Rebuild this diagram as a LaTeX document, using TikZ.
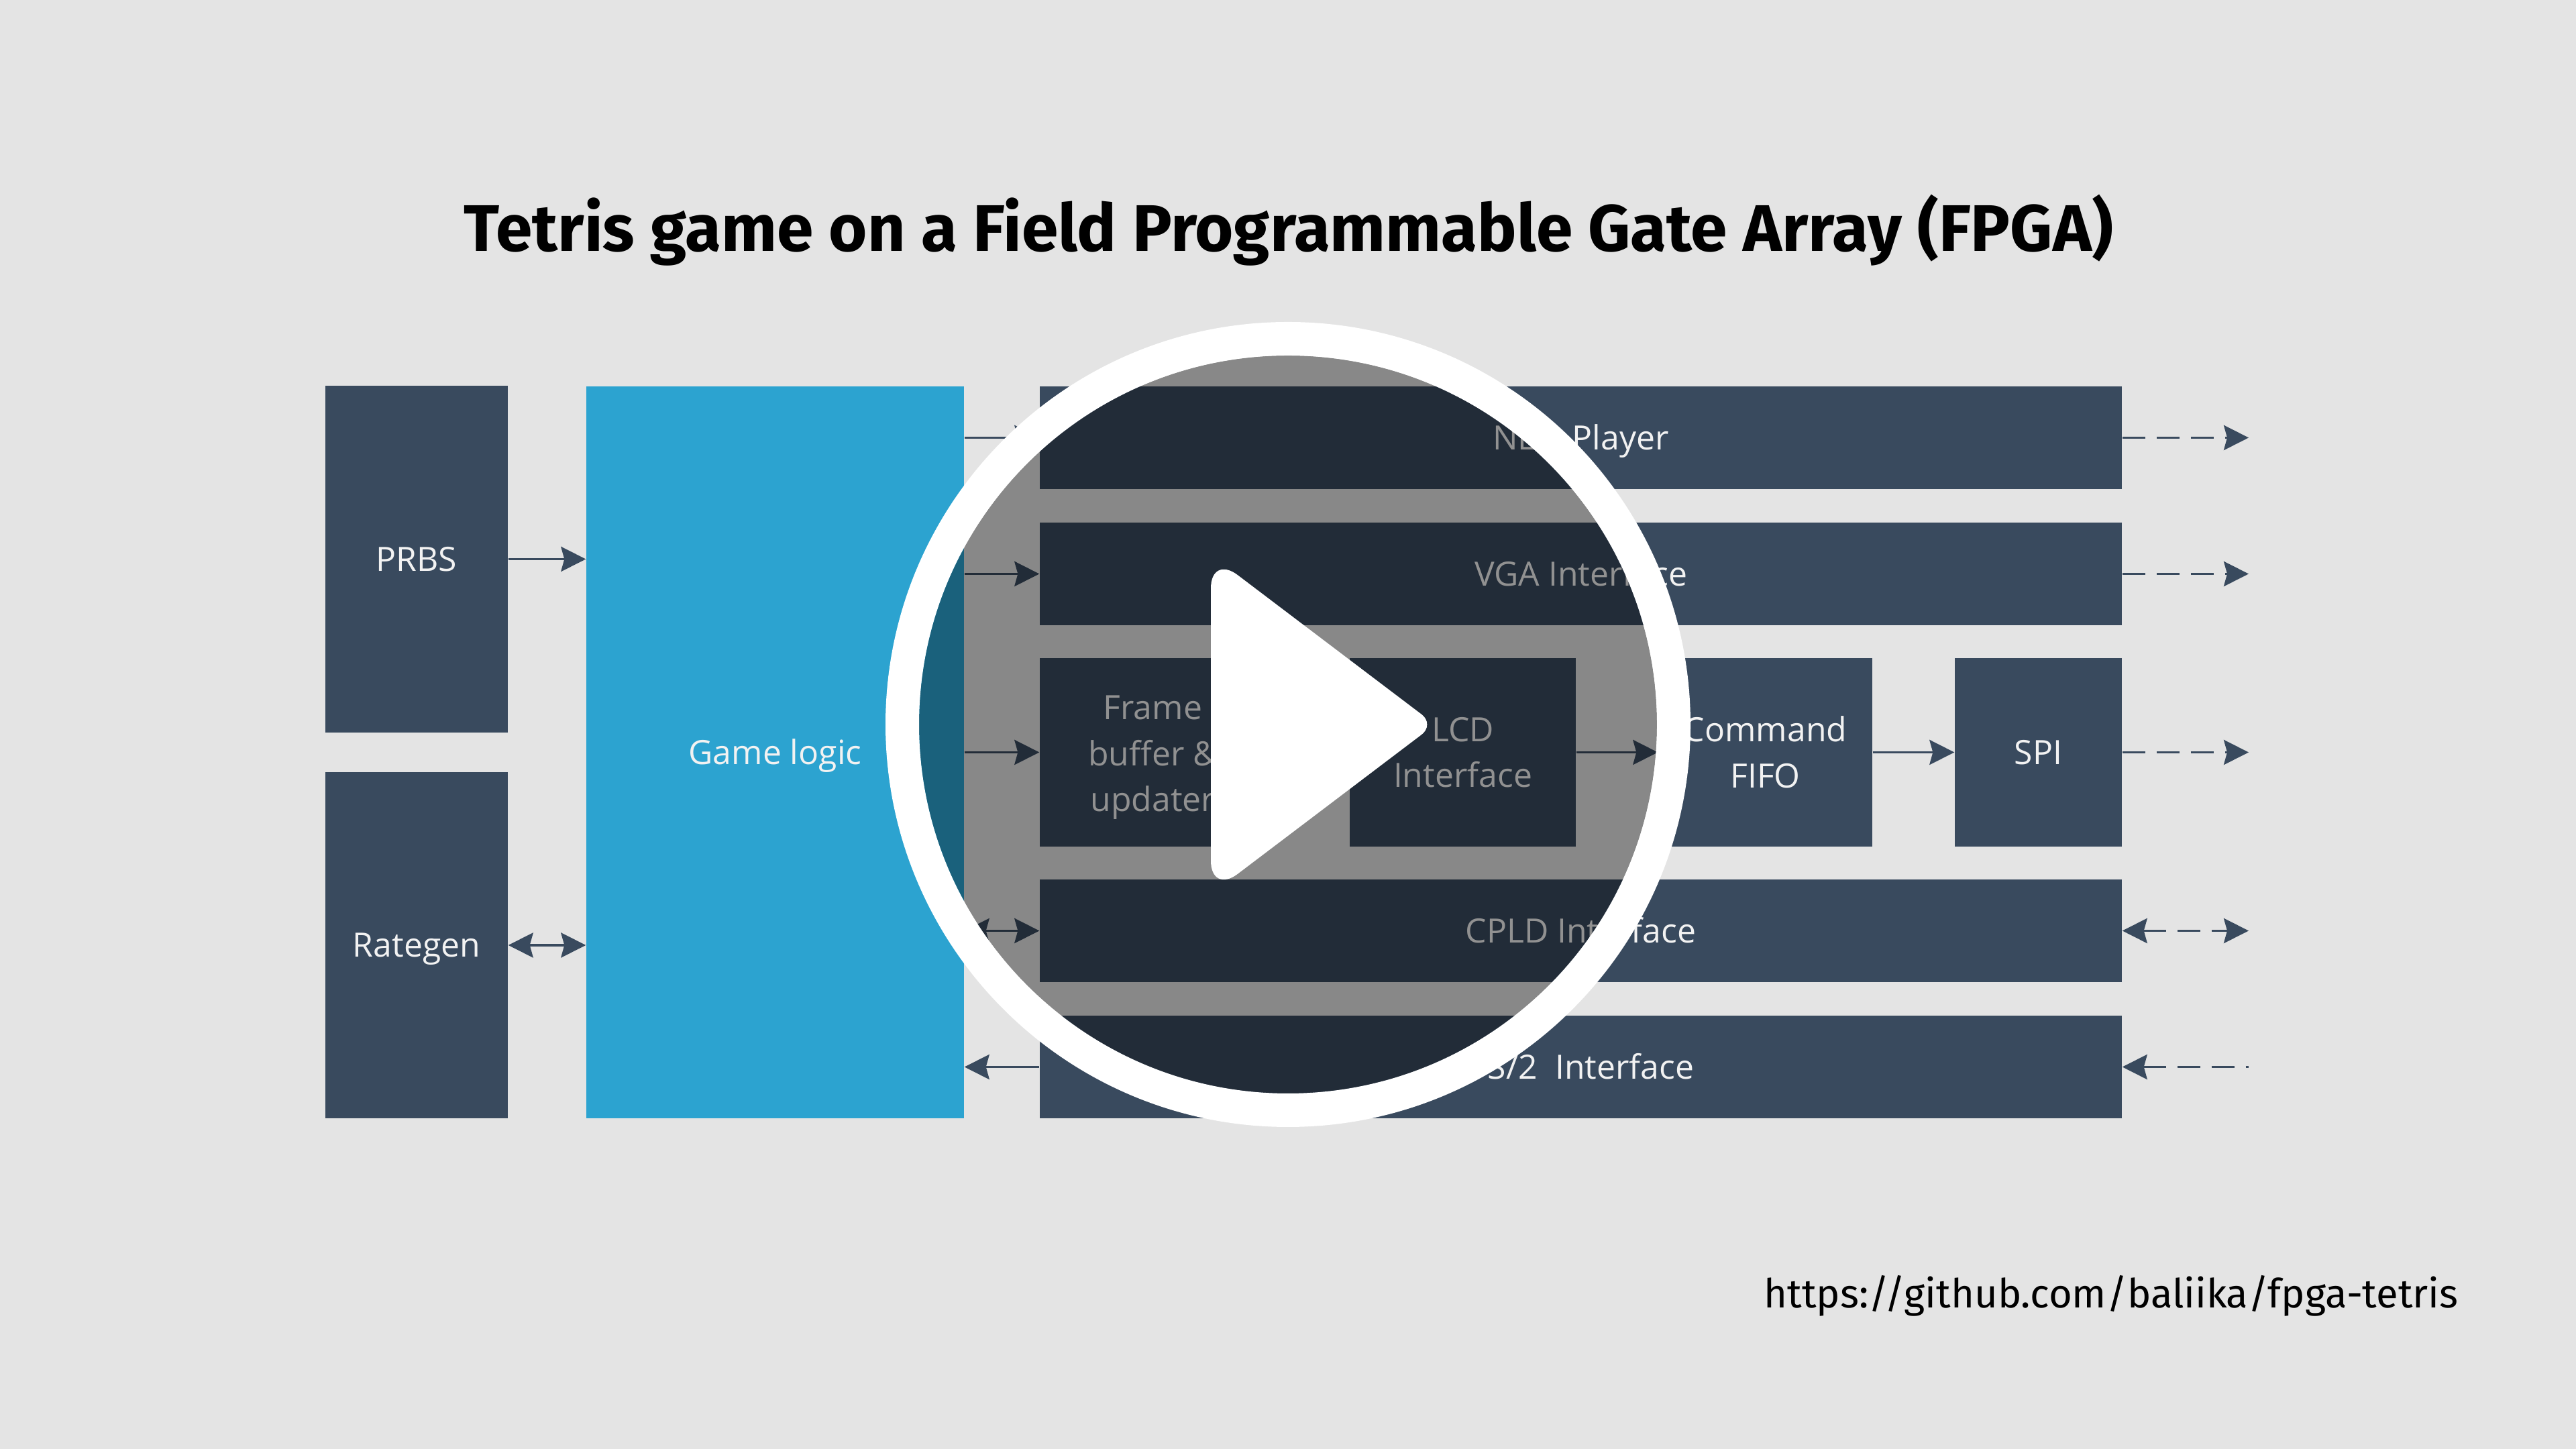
\documentclass[tikz,border=0pt]{standalone}
\usepackage{fontspec}
\setmainfont{Open Sans}
\newfontfamily\titlefont{Fira Sans}
\usetikzlibrary{arrows.meta, positioning, calc}
\definecolor{slatebox}{HTML}{394A5E}
\definecolor{gameblue}{HTML}{2CA3D0}
\definecolor{pagegray}{HTML}{E4E4E4}
\definecolor{boxtext}{HTML}{F2F2F2}

\begin{document}
\begin{tikzpicture}[
  >={Stealth[length=3.7mm, width=3.7mm, inset=0.5mm]},
  stacked/.style={fill=slatebox, text=boxtext, inner sep=0pt, align=center, font=\fontsize{14.2}{19.5}\selectfont},
  block/.style={stacked, execute at begin node=\rule{0pt}{16pt}, execute at end node=\strut},
  wire/.style={draw=slatebox, line width=1.1pt},
  dashwire/.style={wire, dash pattern=on 3.4mm off 1.7mm}
]
  \useasboundingbox (0, 0) rectangle (38.4, 21.6);
  \fill[pagegray] (0, 0) rectangle (38.4, 21.6);

  \node (title) at (19.21, 18.17) {\titlefont\bfseries\fontsize{27.95}{34}\selectfont Tetris game on a Field Programmable Gate Array (FPGA)};
  \node (url) at (31.47, 2.28) {\titlefont\fontsize{17}{22}\selectfont https://github.com/baliika/fpga-tetris};

  \node[block, minimum width=2.72cm, minimum height=5.17cm] (prbs) at (6.21, 13.265) {PRBS};
  \node[block, minimum width=2.72cm, minimum height=5.16cm] (rategen) at (6.21, 7.51) {Rategen};
  \node[block, fill=gameblue, minimum width=5.63cm, minimum height=10.91cm] (game) at (11.555, 10.385) {Game logic};

  \node[block, minimum width=16.13cm, minimum height=1.53cm] (nes) at (23.565, 15.075) {NES~ Player};
  \node[block, minimum width=16.13cm, minimum height=1.53cm] (vga) at (23.565, 13.045) {VGA Interface};
  \node[stacked, minimum width=3.37cm, minimum height=2.81cm] (frame) at (17.185, 10.385) {\rule{0pt}{14.6pt}Frame\\buffer \&\\updater};
  \node[stacked, minimum width=3.37cm, minimum height=2.81cm] (lcd) at (21.805, 10.385) {LCD\\Interface};
  \node[stacked, minimum width=3.19cm, minimum height=2.81cm] (fifo) at (26.315, 10.385) {Command\\FIFO};
  \node[block, minimum width=2.49cm, minimum height=2.81cm] (spi) at (30.385, 10.385) {SPI};
  \node[block, minimum width=16.13cm, minimum height=1.53cm] (cpld) at (23.565, 7.725) {CPLD Interface};
  \node[block, minimum width=16.13cm, minimum height=1.53cm] (ps2) at (23.565, 5.695) {PS/2~ Interface};

  \coordinate (outend) at (33.52, 0);

  \draw[wire, ->] (prbs.east) -- (prbs.east -| game.west);
  \draw[wire, <->] (rategen.east) -- (rategen.east -| game.west);
  \draw[wire, ->] (nes.west -| game.east) -- (nes.west);
  \draw[wire, ->] (vga.west -| game.east) -- (vga.west);
  \draw[wire, ->] (frame.west -| game.east) -- (frame.west);
  \draw[wire, <->] (cpld.west -| game.east) -- (cpld.west);
  \draw[wire, <-] (ps2.west -| game.east) -- (ps2.west);
  \draw[wire, ->] (lcd) -- (fifo);
  \draw[wire, ->] (fifo) -- (spi);

  \draw[dashwire, ->] (nes.east) -- (nes.east -| outend);
  \draw[dashwire, ->] (vga.east) -- (vga.east -| outend);
  \draw[dashwire, ->] (spi.east) -- (spi.east -| outend);
  \draw[dashwire, <->] (cpld.east) -- (cpld.east -| outend);
  \draw[dashwire, <-] (ps2.east) -- (ps2.east -| outend);

  \coordinate (play) at (19.2, 10.8);
  \fill[black, opacity=0.4] (play) circle (5.5);
  \draw[white, line width=0.5cm] (play) circle (5.75);
  \fill[white] (18.05, 10.8) [rounded corners=0.5cm] -- (18.05, 13.33) [rounded corners=0.25cm] -- (21.39, 10.8) [rounded corners=0.5cm] -- (18.05, 8.27) [sharp corners] -- cycle;
\end{tikzpicture}
\end{document}
